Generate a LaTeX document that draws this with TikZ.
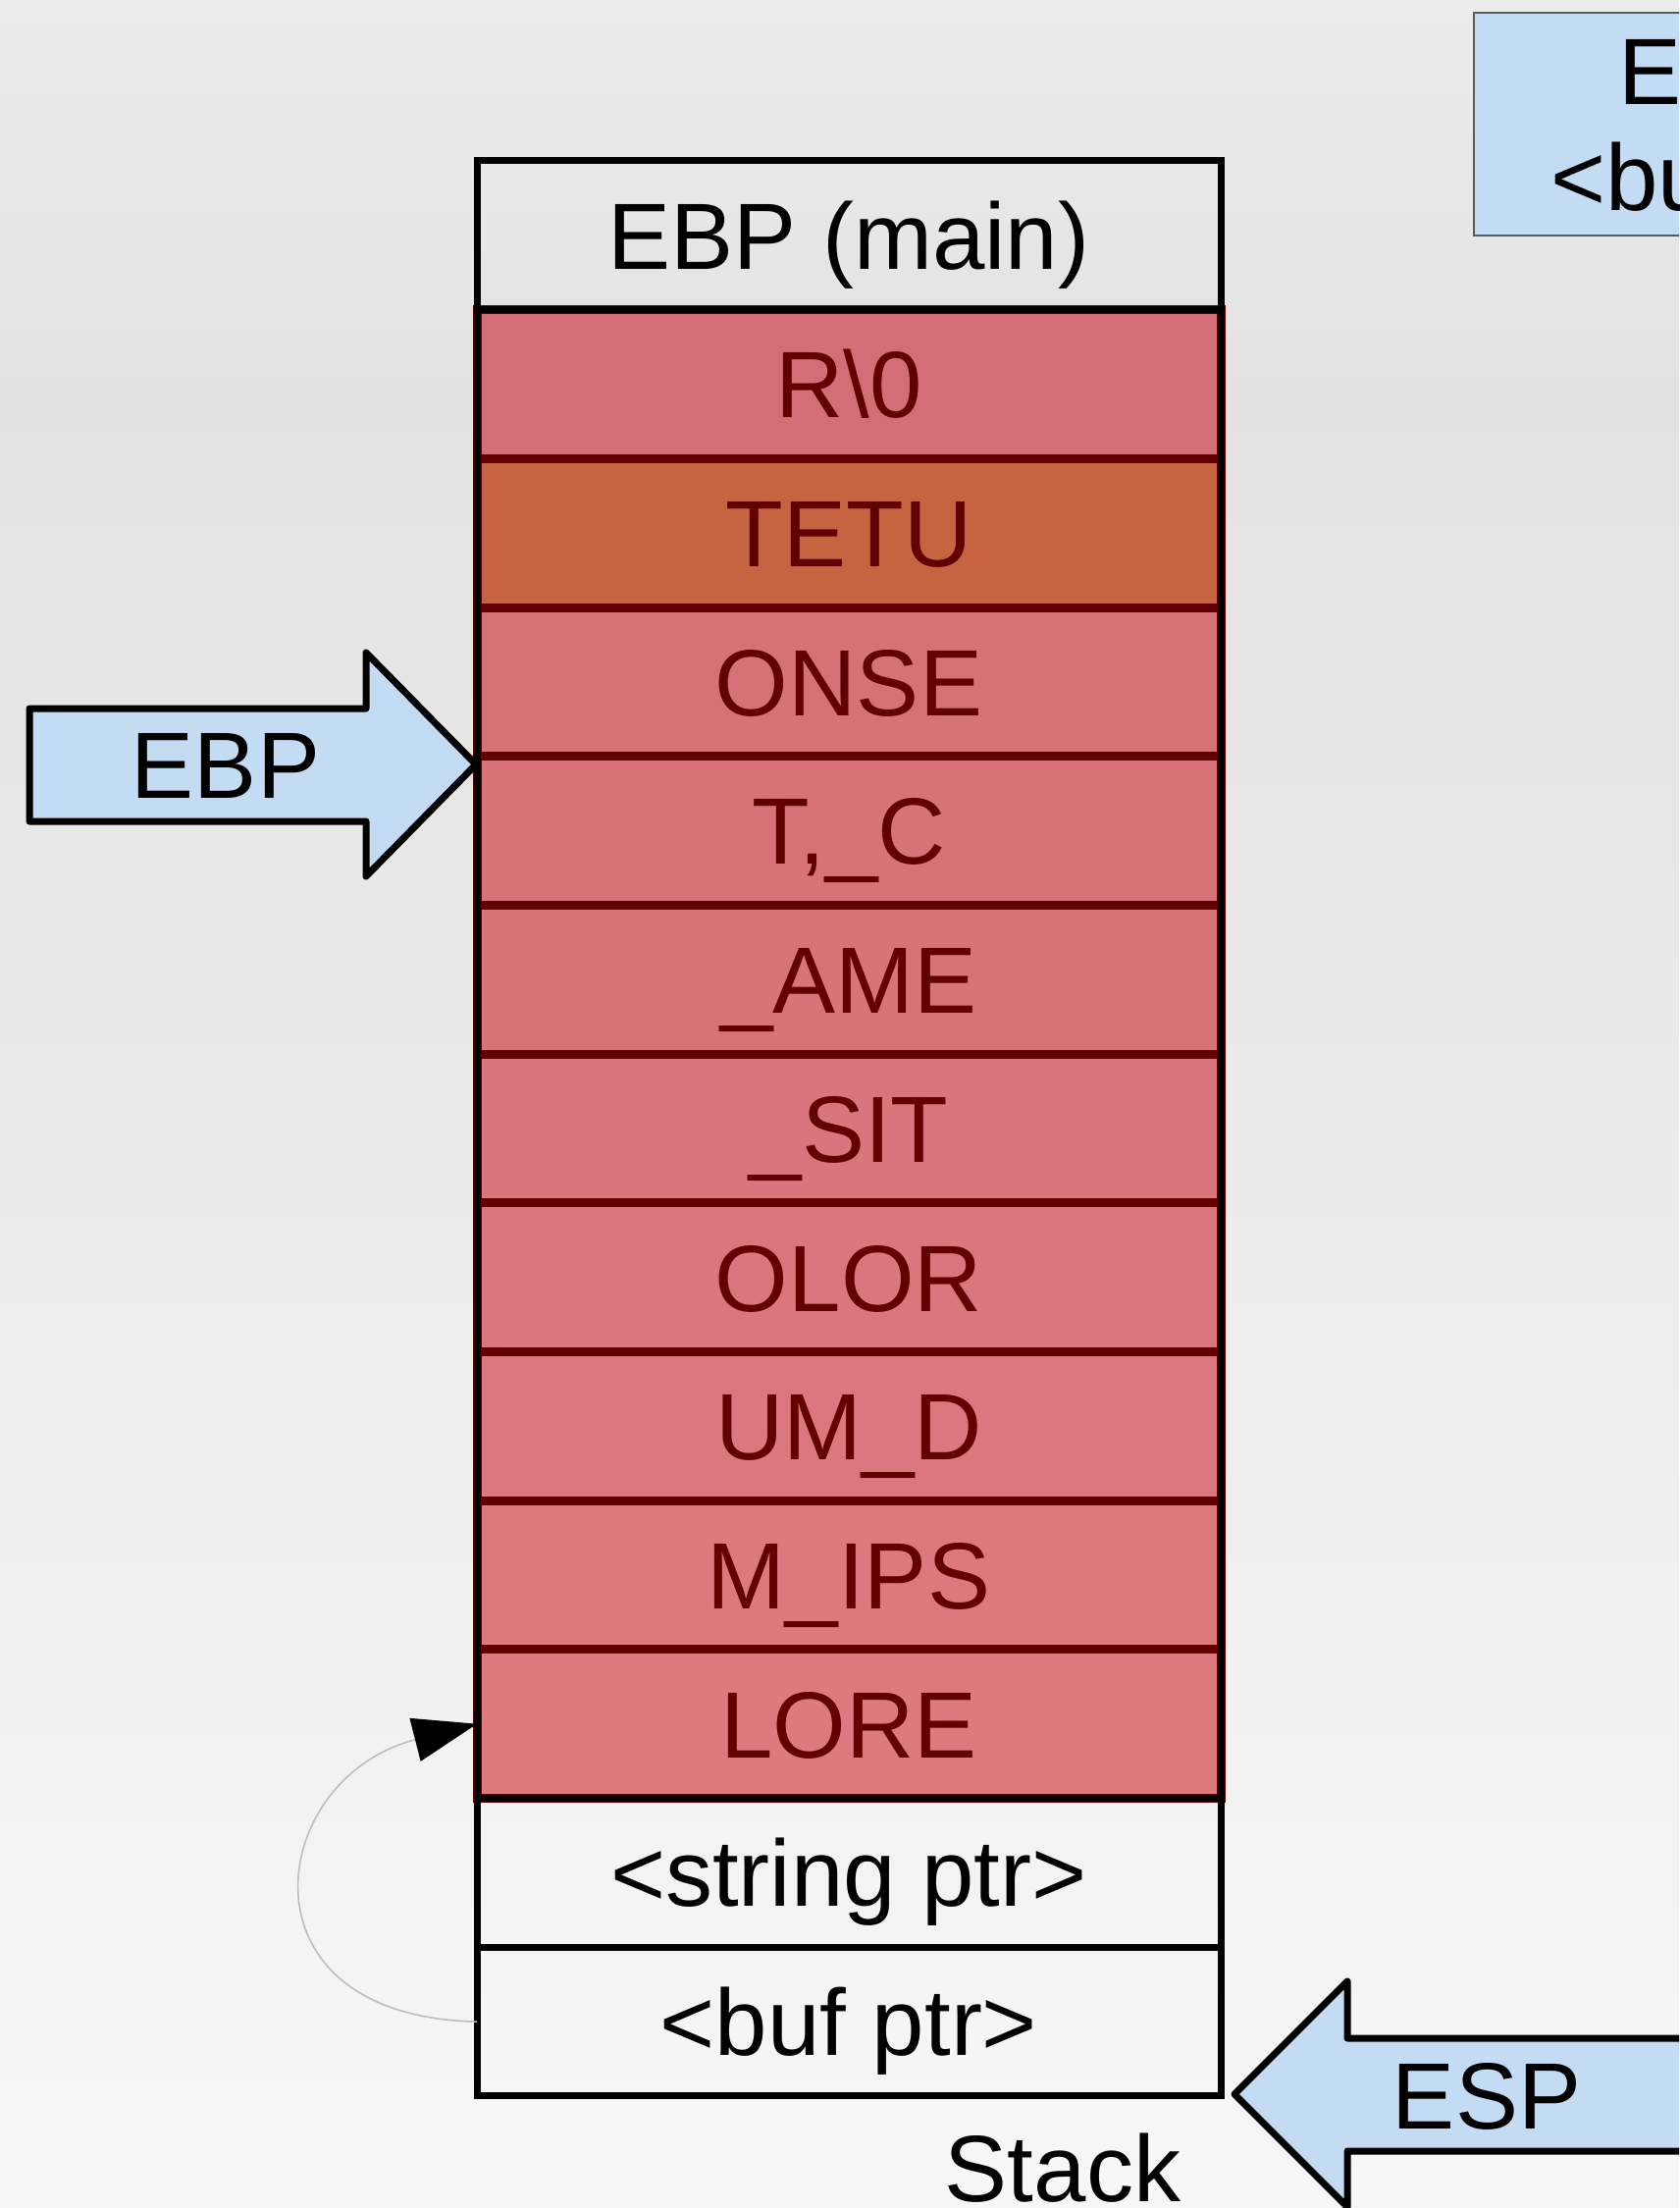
\documentclass[tikz,border=0pt]{standalone}
\usepackage{fontspec}
\setmainfont{Liberation Sans}
\usetikzlibrary{arrows.meta}
\definecolor{bgtop}{HTML}{ECECEC}
\definecolor{bgmid}{HTML}{E2E2E2}
\definecolor{bgbot}{HTML}{F7F7F7}
\definecolor{redA}{HTML}{D46E76}
\definecolor{redB}{HTML}{DD7A80}
\definecolor{tetucol}{HTML}{C66340}
\definecolor{stkdark}{HTML}{600000}
\definecolor{ptrblue}{HTML}{C3DCF3}
\definecolor{boxgray}{HTML}{5A5A5A}
\definecolor{curvegray}{HTML}{BDBDBD}
\begin{document}
\begin{tikzpicture}[x=1pt,y=-1pt,
  font=\fontsize{96}{115}\selectfont,
  cell/.style={rectangle, minimum width=758pt, minimum height=151.7pt, inner sep=0pt, outer sep=0pt, text height=68.7pt, text depth=0pt},
  whitecell/.style={cell, draw=black, line width=7pt, text=black},
  redcell/.style={cell, draw=stkdark, line width=9pt, text=stkdark, fill=#1},
  bluearrow/.style={fill=ptrblue, draw=black, line width=7pt, line join=round},
  lbl/.style={inner sep=0pt, text height=68.7pt, text depth=0pt},
  curvelink/.style={draw=curvegray, line width=1.6pt, -{Triangle[length=65pt,width=45pt,color=black]}}
]
\useasboundingbox (0,0) rectangle (1711,2250);
\clip (0,0) rectangle (1711,2250);
% background
\shade[top color=bgtop, bottom color=bgmid] (0,-2) rectangle (1711,402);
\shade[top color=bgmid, bottom color=bgbot] (0,400) rectangle (1711,2252);

% red cells
\node[redcell={redB!0!redA}]  (r1)  at (865,391.5)  {R\textbackslash 0};
\node[redcell=tetucol]        (r2)  at (865,543.2)  {TETU};
\node[redcell={redB!22!redA}] (r3)  at (865,694.9)  {ONSE};
\node[redcell={redB!33!redA}] (r4)  at (865,846.6)  {T,\_C};
\node[redcell={redB!44!redA}] (r5)  at (865,998.3)  {\_AME};
\node[redcell={redB!56!redA}] (r6)  at (865,1150.0) {\_SIT};
\node[redcell={redB!67!redA}] (r7)  at (865,1301.7) {OLOR};
\node[redcell={redB!78!redA}] (r8)  at (865,1453.3) {UM\_D};
\node[redcell={redB!89!redA}] (r9)  at (865,1605.0) {M\_IPS};
\node[redcell={redB!100!redA}] (r10) at (865,1756.7) {LORE};
% white cells
\node[whitecell] (r0)  at (865,239.8)  {EBP (main)};
\node[whitecell] (r11) at (865,1908.4) {<string ptr>};
\node[whitecell] (r12) at (865,2060.1) {<buf ptr>};
% outer frame
\draw[black, line width=7pt] (r0.north west) rectangle (r12.south east);

\node[lbl] (stacklbl) at (1083,2209) {Stack};

% EBP arrow
\draw[bluearrow] (30,722) -- (373,722) -- (373,665) -- (485,779) -- (373,893) -- (373,837) -- (30,837) -- cycle;
\node[lbl] (ebplbl) at (230,779) {EBP};

% ESP arrow
\draw[bluearrow] (1258,2134) -- (1373,2019) -- (1373,2077) -- (1760,2077) -- (1760,2192) -- (1373,2192) -- (1373,2249) -- cycle;
\node[lbl] (esplbl) at (1515,2135) {ESP};

% top right box
\draw[fill=ptrblue, draw=boxgray, line width=2.5pt] (1502,13) rectangle (1760,240);
\node[anchor=base west, inner sep=0pt] (boxa) at (1649,107) {E};
\node[anchor=base west, inner sep=0pt] (boxb) at (1580,215) {<bu};

% curved connector
\draw[curvelink] (r12.west) .. controls +(-250,-5) and +(-215,55) .. (r10.west);
\end{tikzpicture}
\end{document}
